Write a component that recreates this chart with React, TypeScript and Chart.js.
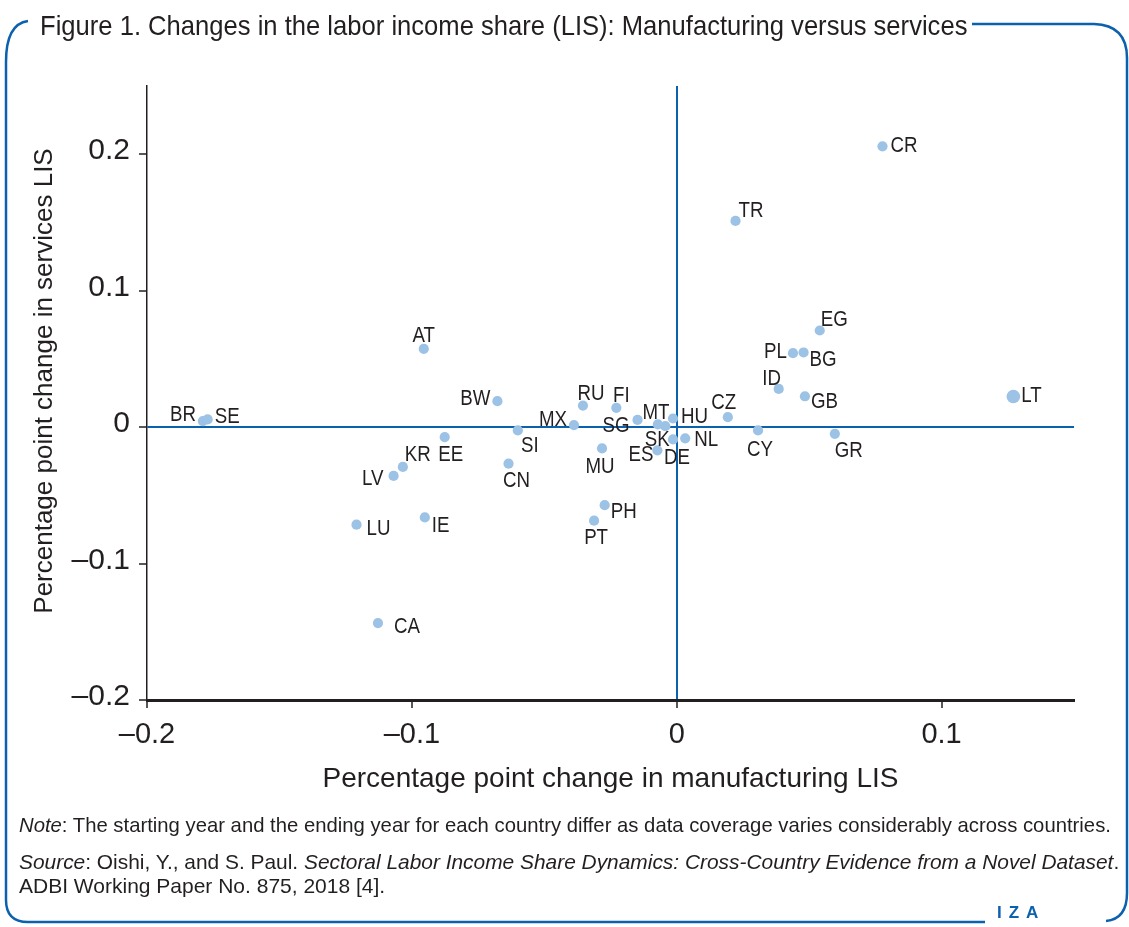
import React, { useEffect, useRef } from 'react';
import { Chart, registerables } from 'chart.js';

Chart.register(...registerables);

// ---------- data ----------
const countries = ['CR','TR','EG','PL','BG','ID','GB','LT','CZ','CY','GR','HU','NL','DE','ES','SK','MT','SG','FI','RU','MX','SI','MU','CN','PH','PT','CA','LU','IE','BW','AT','BR','SE','EE','KR','LV'];
const manufacturingLIS = [0.0777,0.0222,0.0540,0.0439,0.0479,0.0385,0.0484,0.1271,0.0193,0.0307,0.0597,-0.0014,0.0032,-0.0014,-0.0073,-0.0043,-0.0071,-0.0148,-0.0228,-0.0354,-0.0388,-0.0600,-0.0282,-0.0635,-0.0272,-0.0312,-0.1128,-0.1209,-0.0951,-0.0677,-0.0955,-0.1789,-0.1771,-0.0876,-0.1034,-0.1069];
const servicesLIS = [0.2058,0.1511,0.0708,0.0542,0.0547,0.0280,0.0226,0.0224,0.0073,-0.0024,-0.0049,0.0063,-0.0082,-0.0090,-0.0170,0.0007,0.0020,0.0053,0.0141,0.0158,0.0015,-0.0024,-0.0156,-0.0268,-0.0572,-0.0686,-0.1436,-0.0715,-0.0662,0.0190,0.0574,0.0044,0.0056,-0.0073,-0.0292,-0.0358];
const xTicks = [-0.2, -0.1, 0, 0.1];
const yTicks = [-0.2, -0.1, 0, 0.1, 0.2];

const titleText = 'Figure 1. Changes in the labor income share (LIS): Manufacturing versus services';
const xTitle = 'Percentage point change in manufacturing LIS';
const yTitle = 'Percentage point change in services LIS';

// ---------- styles ----------
const BLUE = '#0b61ae';
const DOT = '#9cc2e5';
const TEXT = '#231f20';
const SANS = '"Liberation Sans", Arial, Helvetica, sans-serif';
const largeDots = new Set(['LT']);

// label placement relative to each point: [dx, dy (cap centre), align]
const labelPlacement: Record<string, [number, number, CanvasTextAlign]> = {
  CR: [8, -2, 'left'], TR: [3, -12, 'left'], EG: [1, -12, 'left'], PL: [-6, -3, 'right'],
  BG: [6, 6, 'left'], ID: [-7, -12, 'center'], GB: [6, 4, 'left'], LT: [8, -2, 'left'],
  CZ: [-4, -16, 'center'], CY: [2, 18, 'center'], GR: [14, 16, 'center'], HU: [8, -3, 'left'],
  NL: [9, 0, 'left'], DE: [4, 17, 'center'], ES: [-4, 3, 'right'], SK: [-8, 12, 'center'],
  MT: [-2, -13, 'center'], SG: [-8, 4, 'right'], FI: [5, -14, 'center'], RU: [8, -13, 'center'],
  MX: [-7, -7, 'right'], SI: [12, 14, 'center'], MU: [-2, 17, 'center'], CN: [8, 16, 'center'],
  PH: [6, 5, 'left'], PT: [2, 16, 'center'], CA: [16, 2, 'left'], LU: [10, 3, 'left'],
  IE: [7, 7, 'left'], BW: [-7, -4, 'right'], AT: [0, -14, 'center'], BR: [-7, -8, 'right'],
  SE: [7, -4, 'left'], EE: [6, 16, 'center'], KR: [15, -14, 'center'], LV: [-10, 1, 'right'],
};

const fmt = (v: number) => {
  const r = Math.round(v * 10) / 10;
  if (r === 0) return '0';
  return r < 0 ? '\u2013' + String(Math.abs(r)) : String(r);
};

const pointLabels = {
  id: 'pointLabels',
  afterDatasetsDraw(chart: any) {
    const ctx = chart.ctx;
    const meta = chart.getDatasetMeta(0);
    const size = 21.5;
    const squeeze = 0.87;
    ctx.save();
    ctx.font = `${size}px ${SANS}`;
    ctx.fillStyle = TEXT;
    ctx.textBaseline = 'alphabetic';
    meta.data.forEach((pt: any, i: number) => {
      const name = countries[i];
      const [dx, dy, align] = labelPlacement[name] || [8, 0, 'left'];
      ctx.save();
      ctx.translate(pt.x + dx, pt.y + dy + (size * 0.716) / 2);
      ctx.scale(squeeze, 1);
      ctx.textAlign = align;
      ctx.fillText(name, 0, 0);
      ctx.restore();
    });
    ctx.restore();
  },
};

const yTitlePlugin = {
  id: 'yTitle',
  afterDraw(chart: any) {
    const ctx = chart.ctx;
    ctx.save();
    ctx.translate(45, 381);
    ctx.rotate(-Math.PI / 2);
    ctx.font = `26px ${SANS}`;
    ctx.fillStyle = TEXT;
    ctx.textAlign = 'center';
    ctx.textBaseline = 'middle';
    ctx.fillText(yTitle, 0, 0);
    ctx.restore();
  },
};

const textLine = (left: number, top: number, size: number, sx: number): React.CSSProperties => ({
  position: 'absolute',
  left,
  top,
  font: `${size}px/24px ${SANS}`,
  color: TEXT,
  whiteSpace: 'nowrap',
  transform: `scaleX(${sx})`,
  transformOrigin: 'left top',
});

export default function App() {
  const ref = useRef<HTMLCanvasElement>(null);

  useEffect(() => {
    if (!ref.current) return;
    const chart = new Chart(ref.current, {
      type: 'scatter',
      data: {
        datasets: [
          {
            data: countries.map((c, i) => ({ x: manufacturingLIS[i], y: servicesLIS[i] })),
            backgroundColor: DOT,
            borderWidth: 0,
            pointRadius: (c: any) => (largeDots.has(countries[c.dataIndex]) ? 6.8 : 5.1),
            pointHoverRadius: (c: any) => (largeDots.has(countries[c.dataIndex]) ? 6.8 : 5.1),
          },
        ],
      },
      options: {
        responsive: false,
        maintainAspectRatio: false,
        animation: false,
        devicePixelRatio: 1,
        events: [],
        layout: { padding: { top: 86, right: 55, bottom: 0, left: 0 } },
        plugins: { legend: { display: false }, tooltip: { enabled: false } },
        scales: {
          x: {
            type: 'linear',
            min: -0.2,
            max: 0.15,
            afterFit: (s: any) => { s.height = 227; },
            afterBuildTicks: (s: any) => { s.ticks = xTicks.map((v) => ({ value: v })); },
            grid: {
              drawOnChartArea: true,
              color: (c: any) => (c.tick && c.tick.value === 0 ? BLUE : 'rgba(0,0,0,0)'),
              lineWidth: 2,
              tickColor: TEXT,
              tickLength: 8,
              tickWidth: 1.5,
            },
            border: { display: true, color: TEXT, width: 3 },
            ticks: {
              font: { family: SANS, size: 29 },
              color: TEXT,
              padding: 10,
              maxRotation: 0,
              callback: (v: any) => fmt(Number(v)),
            },
            title: {
              display: true,
              text: xTitle,
              font: { family: SANS, size: 28 },
              color: TEXT,
              padding: { top: 0, bottom: 131 },
            },
          },
          y: {
            type: 'linear',
            min: -0.2,
            max: 0.25,
            afterFit: (s: any) => { s.width = 147; },
            afterBuildTicks: (s: any) => { s.ticks = yTicks.map((v) => ({ value: v })); },
            grid: {
              drawOnChartArea: true,
              color: (c: any) => (c.tick && c.tick.value === 0 ? BLUE : 'rgba(0,0,0,0)'),
              lineWidth: 2,
              tickColor: TEXT,
              tickLength: 8,
              tickWidth: 1.5,
            },
            border: { display: true, color: TEXT, width: 1.5 },
            ticks: {
              font: { family: SANS, size: 30 },
              color: TEXT,
              padding: 9,
              labelOffset: -3,
              callback: (v: any) => fmt(Number(v)),
            },
            title: { display: false },
          },
        },
      },
      plugins: [pointLabels, yTitlePlugin],
    } as any);
    return () => chart.destroy();
  }, []);

  return (
    <div style={{ position: 'absolute', left: 0, top: 0, width: 1129, height: 927, background: '#fff', overflow: 'hidden' }}>
      <canvas ref={ref} width={1129} height={927} style={{ position: 'absolute', left: 0, top: 0, width: 1129, height: 927 }} />
      <svg width={1129} height={927} style={{ position: 'absolute', left: 0, top: 0, pointerEvents: 'none' }}>
        <path d="M 28 21 Q 6 24 6 62 L 6 900 Q 6 922 28 922 L 985 922" fill="none" stroke={BLUE} strokeWidth={2.5} />
        <path d="M 972 24 L 1094 24 Q 1127 25 1127 58 L 1127 893 Q 1127 919 1106 921" fill="none" stroke={BLUE} strokeWidth={2.5} />
      </svg>
      <div style={{ position: 'absolute', left: 40, top: 10, font: `28px/32px ${SANS}`, color: TEXT, whiteSpace: 'nowrap', transform: 'scaleX(0.914)', transformOrigin: 'left top' }}>
        {titleText}
      </div>
      <div style={textLine(19, 813, 21, 0.966)}>
        <i>Note</i>: The starting year and the ending year for each country differ as data coverage varies considerably across countries.
      </div>
      <div style={textLine(19, 850, 21, 0.995)}>
        <i>Source</i>: Oishi, Y., and S. Paul. <i>Sectoral Labor Income Share Dynamics: Cross-Country Evidence from a Novel Dataset</i>.
      </div>
      <div style={textLine(19, 874, 21, 1)}>
        ADBI Working Paper No. 875, 2018 [4].
      </div>
      <div style={{ position: 'absolute', left: 997, top: 903, font: `bold 17px/20px ${SANS}`, color: BLUE, letterSpacing: 7, whiteSpace: 'nowrap' }}>
        IZA
      </div>
    </div>
  );
}
